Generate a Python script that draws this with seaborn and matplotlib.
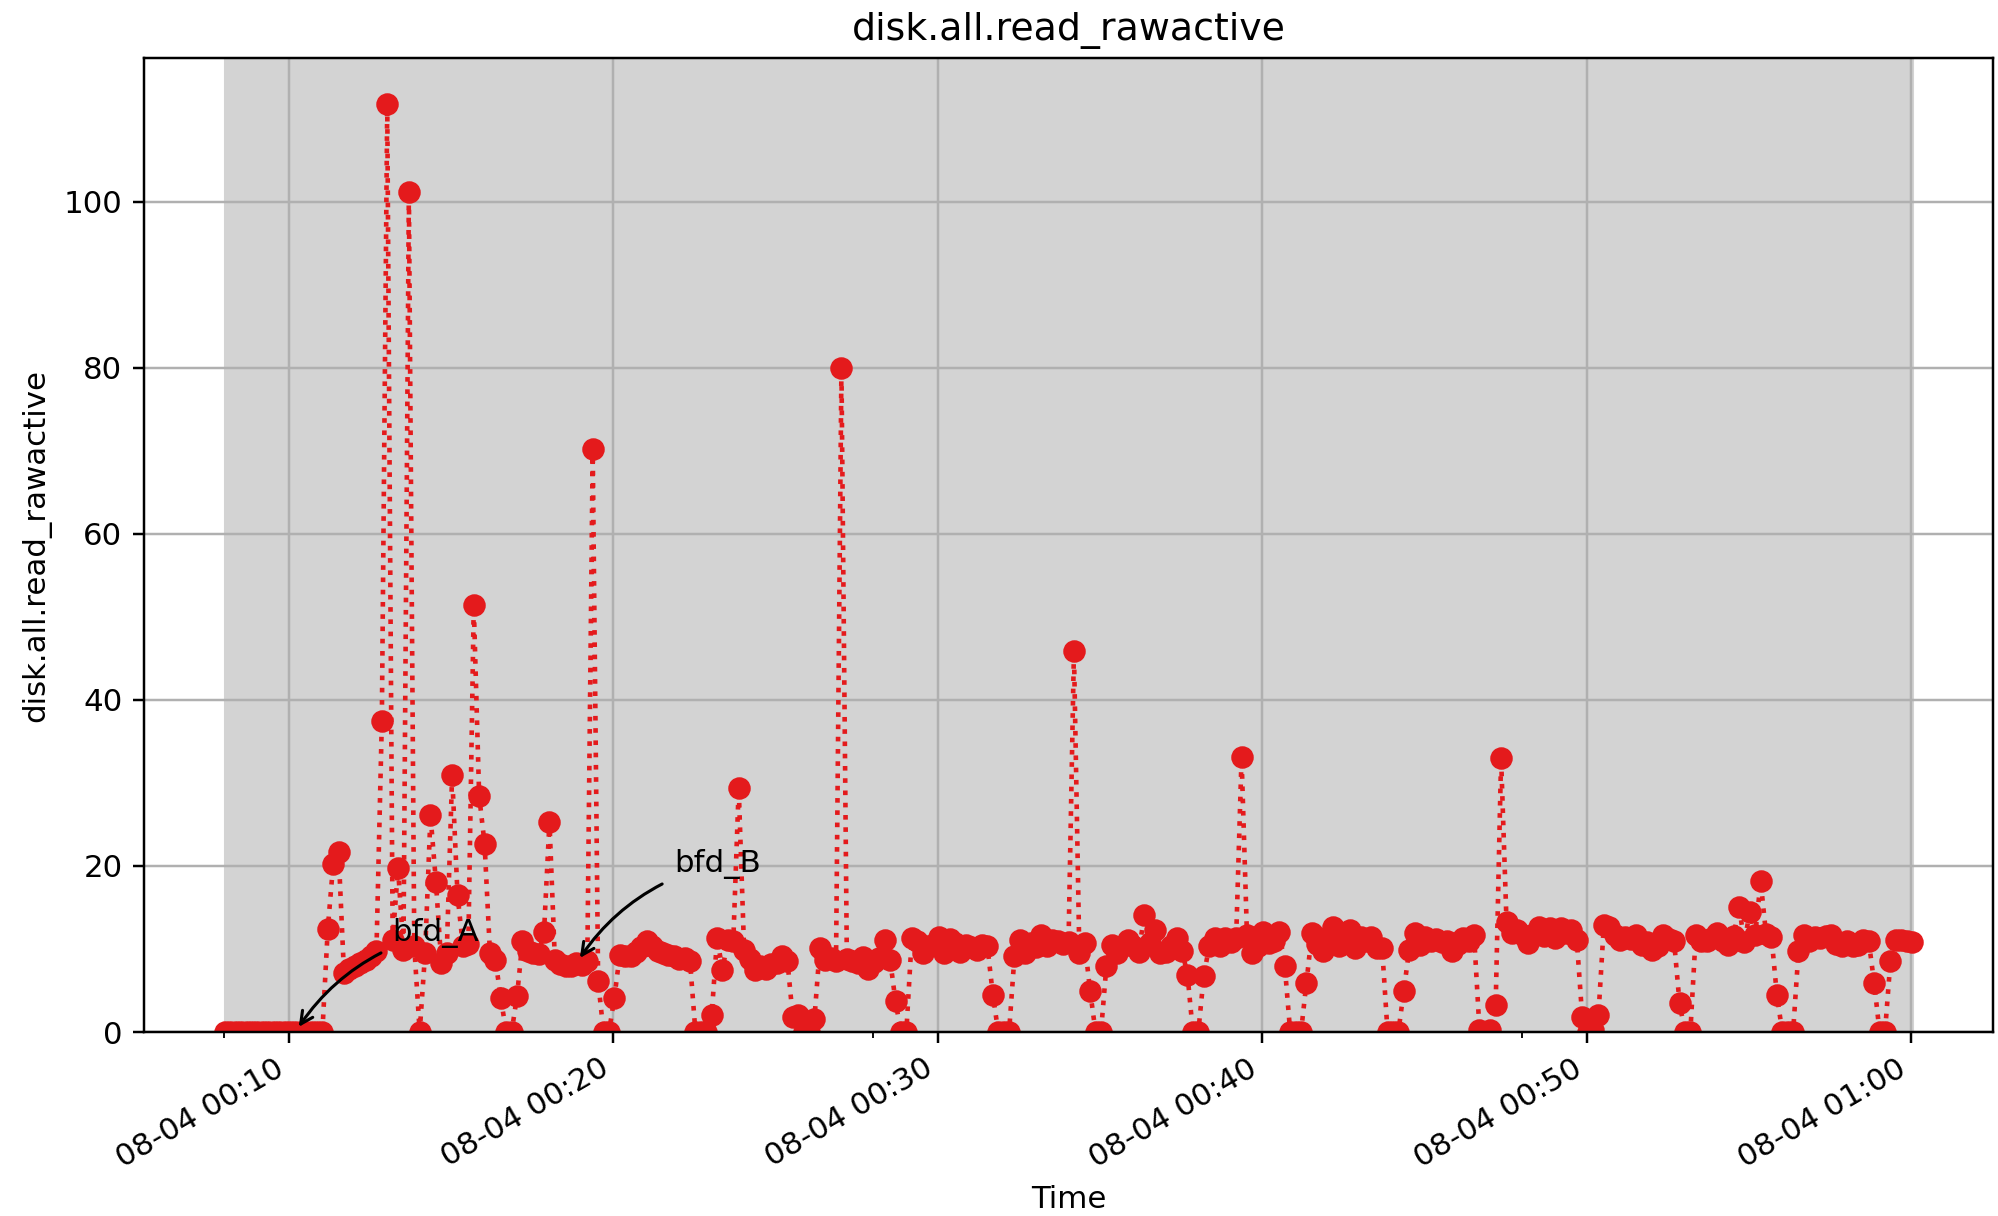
import numpy as np
import pandas as pd
import matplotlib
matplotlib.use("Agg")
import matplotlib.pyplot as plt
import matplotlib.dates as mdates
from matplotlib.ticker import FixedLocator
import seaborn as sns

# Sample times: pmlogger archive, one sample every 10 s
start_time = "2023-08-04 00:08:02"
sample_interval = "10s"

# disk.all.read_rawactive samples
read_rawactive = [
    0, 0, 0, 0, 0, 0, 0, 0, 0, 0,
    0, 0, 0, 0, 0, 0, 0, 0, 0, 12.4,
    20.2, 21.7, 7.1, 7.6, 7.9, 8.3, 8.7, 9.2, 9.7, 37.4,
    111.7, 11.1, 19.7, 9.9, 101.2, 10.3, 0, 9.5, 26.1, 18.1,
    8.3, 9.5, 31.0, 16.5, 10.3, 10.6, 51.4, 28.4, 22.7, 9.5,
    8.7, 4.1, 0, 0, 4.3, 10.9, 9.8, 9.5, 9.4, 12.1,
    25.3, 8.7, 8.2, 7.9, 8.0, 8.3, 8.1, 8.5, 70.2, 6.1,
    0, 0, 4.1, 9.3, 9.2, 9.1, 9.6, 10.2, 10.9, 10.4,
    9.7, 9.5, 9.3, 9.1, 8.8, 8.9, 8.5, 0, 0, 0,
    2.0, 11.3, 7.5, 11.1, 11.0, 29.4, 9.9, 8.8, 7.5, 8.0,
    7.6, 8.2, 8.3, 9.1, 8.6, 1.8, 2.0, 0, 0, 1.6,
    10.1, 8.7, 8.9, 8.6, 80.0, 8.8, 8.5, 8.3, 9.0, 7.6,
    8.4, 8.9, 11.1, 8.7, 3.7, 0, 0, 11.3, 10.9, 9.5,
    10.3, 10.5, 11.5, 9.5, 11.2, 10.7, 9.6, 10.5, 10.2, 9.9,
    10.5, 10.3, 4.5, 0, 0, 0, 9.1, 11.1, 9.5, 10.7,
    10.2, 11.7, 10.4, 11.1, 10.9, 10.6, 10.8, 45.9, 9.5, 10.7,
    4.9, 0, 0, 7.9, 10.5, 9.5, 10.3, 11.1, 10.4, 9.6,
    14.1, 10.7, 12.3, 9.5, 9.6, 10.3, 11.3, 9.8, 6.9, 0,
    0, 6.7, 10.3, 11.3, 10.3, 11.3, 10.8, 11.3, 33.1, 11.7,
    9.5, 10.4, 12.1, 10.7, 11.0, 12.0, 7.9, 0, 0, 0,
    5.9, 11.9, 10.6, 9.7, 11.5, 12.7, 10.3, 11.6, 12.3, 10.1,
    11.5, 11.0, 11.4, 10.1, 10.1, 0, 0, 0, 4.9, 9.9,
    11.9, 10.5, 11.5, 10.9, 11.2, 10.8, 11.0, 9.7, 10.6, 11.3,
    11.0, 11.7, 0.3, 0, 0.2, 3.3, 33.0, 13.3, 11.9, 12.3,
    11.7, 10.7, 11.8, 12.7, 11.6, 12.5, 11.3, 12.5, 11.9, 12.3,
    11.1, 1.8, 0, 0.3, 2.0, 12.9, 12.7, 11.7, 11.1, 11.5,
    11.2, 11.7, 10.5, 10.8, 9.9, 10.4, 11.7, 11.2, 10.9, 3.5,
    0, 0, 11.7, 11.0, 10.9, 11.3, 11.9, 11.0, 10.5, 11.6,
    15.1, 10.8, 14.5, 11.7, 18.2, 11.8, 11.5, 4.5, 0, 0,
    0, 9.7, 11.7, 11.0, 11.5, 11.3, 11.6, 11.7, 10.6, 10.3,
    10.9, 10.3, 10.5, 11.1, 10.9, 5.9, 0, 0, 8.5, 11.1,
    11.1, 10.9, 10.8,
]

# Marked events: (label, sample index)
event_labels = ["bfd_A", "bfd_B"]
event_index = [13, 65]

metric = "disk.all.read_rawactive"
times = pd.date_range(start_time, periods=len(read_rawactive), freq=sample_interval)
df = pd.DataFrame({"Time": times, metric: read_rawactive})

RED = "#e41a1c"
DPI = 222

fig = plt.figure(figsize=(1998 / DPI, 1216 / DPI), dpi=DPI)
ax = fig.add_axes([0.0721, 0.1513, 0.9254, 0.8010])

# Shade the archive's time window
ax.axvspan(df["Time"].iloc[0], df["Time"].iloc[-1], color="lightgray", zorder=0)

sns.lineplot(
    data=df, x="Time", y=metric, ax=ax, estimator=None,
    color=RED, linestyle=":", linewidth=1.5,
    marker="o", markersize=6.3, markeredgecolor=RED, markeredgewidth=1,
)

ax.margins(x=0.048)
ax.set_ylim(bottom=0)
ax.grid(True)
ax.set_title(metric, fontsize=12.3)
ax.set_xlabel("Time")
ax.set_ylabel(metric)

ax.xaxis.set_major_locator(mdates.MinuteLocator(byminute=range(0, 60, 10)))
ax.xaxis.set_major_formatter(mdates.DateFormatter("%m-%d %H:%M"))
minor_times = pd.to_datetime(["2023-08-04 00:08", "2023-08-04 00:28", "2023-08-04 00:48"])
ax.xaxis.set_minor_locator(FixedLocator(mdates.date2num(minor_times)))
for lbl in ax.get_xticklabels():
    lbl.set_rotation(30)
    lbl.set_ha("right")

# Annotate events, label offset by 3 minutes and 11 units
for label, idx in zip(event_labels, event_index):
    t = df["Time"].iloc[idx]
    v = df[metric].iloc[idx]
    ax.annotate(
        label,
        xy=(mdates.date2num(t), v),
        xytext=(mdates.date2num(t + pd.Timedelta(minutes=3)), v + 11),
        fontsize=10,
        arrowprops=dict(arrowstyle="->", connectionstyle="arc3,rad=0.2", color="black"),
    )

fig.savefig("out.png", dpi=DPI)
